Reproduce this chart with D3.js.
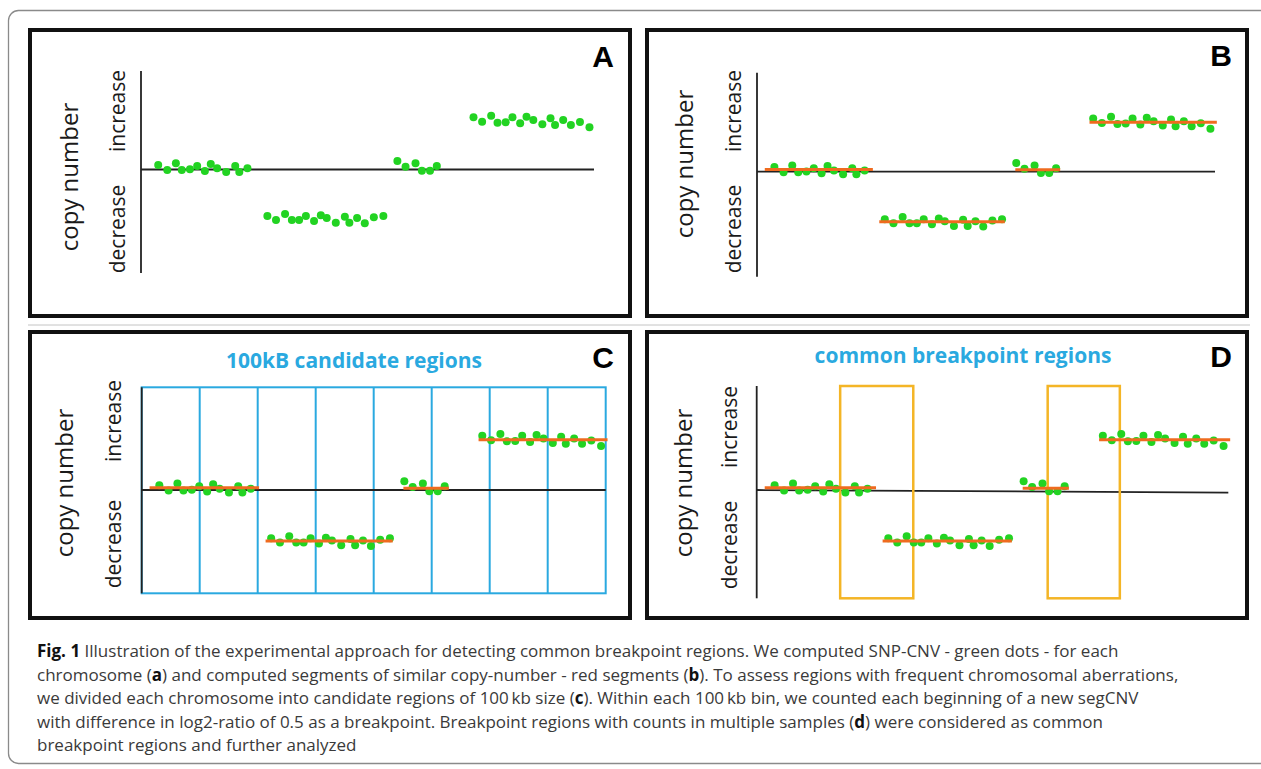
<!DOCTYPE html>
<html>
<head>
<meta charset="utf-8">
<script src="https://cdn.jsdelivr.net/npm/d3@7"></script>
<style>
  body { margin: 0; background: #fff; }
  svg { display: block; }
</style>
</head>
<body>
<div id="fig"></div>
<script>
// segment summary (red/orange segments), x in % of chromosome, y in copy-number units
var segStart = [1.7, 26.7, 56.4, 72.6];
var segEnd   = [25.3, 54.1, 66.2, 100.4];
var segMean  = [0.022, -0.49, 0.018, 0.484];

// SNP-CNV dots per segment
var dotPos = [
  [3.8, 5.8, 7.7, 9.0, 10.8, 12.4, 14.1, 15.4, 16.8, 18.8, 20.8, 21.7, 23.5],
  [27.9, 29.8, 31.8, 33.3, 34.9, 36.4, 38.2, 39.7, 41.0, 43.0, 45.0, 46.0, 47.7, 49.4, 51.4, 53.5],
  [56.6, 58.4, 60.6, 62.0, 63.8, 65.3],
  [73.4, 75.3, 77.3, 78.7, 80.5, 82.0, 83.7, 85.1, 86.6, 88.6, 90.4, 91.4, 93.2, 94.9, 96.9, 99.0]
];
var dotCN = [
  [0.045, -0.005, 0.062, -0.005, 0.002, 0.035, -0.015, 0.055, 0.012, -0.025, 0.035, -0.025, 0.012],
  [-0.465, -0.505, -0.445, -0.505, -0.505, -0.465, -0.515, -0.458, -0.485, -0.532, -0.472, -0.532, -0.485, -0.538, -0.478, -0.465],
  [0.085, 0.028, 0.062, -0.012, -0.012, 0.035],
  [0.522, 0.478, 0.538, 0.468, 0.472, 0.522, 0.462, 0.528, 0.495, 0.452, 0.512, 0.445, 0.495, 0.445, 0.475, 0.422]
];

// 100kB candidate bins (panel C) and common breakpoint regions (panel D)
var binEdges = [0, 12.5, 25, 37.5, 50, 62.5, 75, 87.5, 100];
var breakStart = [17.7, 61.7];
var breakEnd   = [33.2, 77.0];

var panelLetters = ["A", "B", "C", "D"];
var panelTitles = ["", "", "100kB candidate regions", "common breakpoint regions"];

var captionLines = [
  [["Fig. 1", true], [" Illustration of the experimental approach for detecting common breakpoint regions. We computed SNP-CNV - green dots - for each", false]],
  [["chromosome (", false], ["a", true], [") and computed segments of similar copy-number - red segments (", false], ["b", true], ["). To assess regions with frequent chromosomal aberrations,", false]],
  [["we divided each chromosome into candidate regions of 100\u2009kb size (", false], ["c", true], ["). Within each 100\u2009kb bin, we counted each beginning of a new segCNV", false]],
  [["with difference in log2-ratio of 0.5 as a breakpoint. Breakpoint regions with counts in multiple samples (", false], ["d", true], [") were considered as common", false]],
  [["breakpoint regions and further analyzed", false]]
];

function drawFigure(){
    var W = 1261, H = 769;
    var svg = d3.select("#fig").append("svg")
        .attr("width", W).attr("height", H);

    // outer frame of the figure
    svg.append("rect")
        .attr("x", 8.5).attr("y", 10.5)
        .attr("width", 1275).attr("height", 753)
        .attr("rx", 10)
        .attr("fill", "none").attr("stroke", "#8a8a8a").attr("stroke-width", 1.3);
    svg.append("line")
        .attr("x1", 28).attr("x2", 1250).attr("y1", 325).attr("y2", 325)
        .attr("stroke", "#c4c4c4").attr("stroke-width", 1);

    // layout of each panel (box, plotting area, labels)
    var panels = [
        {box: [30, 30, 630, 316], left: 141, right: 594, top: 71, bottom: 273, zero: 169.5, unit: 100,
         letter: [614, 67], cn: [68, 177], inc: [117, 111], dec: [117, 229]},
        {box: [647, 30, 1247, 316], left: 757, right: 1215, top: 72.7, bottom: 276.7, zero: 171.7, unit: 102,
         letter: [1232, 66], cn: [683, 164], inc: [733, 111], dec: [733, 229]},
        {box: [30, 332, 630, 618], left: 141.7, right: 605.7, top: 387.3, bottom: 593.3, zero: 490, unit: 104,
         letter: [614, 368], cn: [63, 483], inc: [113, 421], dec: [113, 544], title: [354, 368]},
        {box: [647, 332, 1247, 618], left: 756.7, right: 1228.3, top: 386, bottom: 598.3, zero: 490, unit: 104,
         letter: [1232, 367], cn: [682, 483], inc: [729, 427], dec: [729, 545], title: [963, 363], tilt: -0.025}
    ];

    var green = "#22d322", orange = "#ef6b1f", blue = "#2aa9e0", gold = "#f4b526";

    panels.forEach(function(p, i){
        var g = svg.append("g").attr("class", "panel panel-" + panelLetters[i]);
        var x = d3.scaleLinear().domain([0, 100]).range([p.left, p.right]);
        var y = d3.scaleLinear().domain([0, 1]).range([p.zero, p.zero - p.unit]);
        var yMin = y.invert(p.bottom), yMax = y.invert(p.top);

        g.append("rect")
            .attr("x", p.box[0]).attr("y", p.box[1])
            .attr("width", p.box[2] - p.box[0]).attr("height", p.box[3] - p.box[1])
            .attr("fill", "#fff").attr("stroke", "#111").attr("stroke-width", 4);

        // panel C: candidate region grid
        if (i === 2) {
            g.append("rect")
                .attr("x", x(0)).attr("y", y(yMax))
                .attr("width", x(100) - x(0)).attr("height", y(yMin) - y(yMax))
                .attr("fill", "none").attr("stroke", blue).attr("stroke-width", 2);
            g.selectAll(".bin")
                .data(binEdges.slice(1, -1))
                .enter().append("line")
                .attr("class", "bin")
                .attr("x1", function(d){ return x(d); }).attr("x2", function(d){ return x(d); })
                .attr("y1", y(yMax)).attr("y2", y(yMin))
                .attr("stroke", blue).attr("stroke-width", 2);
        }

        // axes: vertical copy-number axis and zero line
        g.append("line")
            .attr("x1", x(0)).attr("x2", x(0)).attr("y1", y(yMax)).attr("y2", y(yMin))
            .attr("stroke", "#222").attr("stroke-width", 1.8);
        g.append("line")
            .attr("x1", x(0)).attr("x2", x(100))
            .attr("y1", y(0)).attr("y2", y(p.tilt || 0))
            .attr("stroke", "#222").attr("stroke-width", 1.8);

        // panel D: common breakpoint boxes
        if (i === 3) {
            g.selectAll(".brk")
                .data(breakStart)
                .enter().append("rect")
                .attr("class", "brk")
                .attr("x", function(d){ return x(d); })
                .attr("y", y(yMax))
                .attr("width", function(d, j){ return x(breakEnd[j]) - x(d); })
                .attr("height", y(yMin) - y(yMax))
                .attr("fill", "none").attr("stroke", gold).attr("stroke-width", 2.5);
        }

        // green dots
        dotPos.forEach(function(seg, s){
            g.selectAll(".dot-s" + s)
                .data(seg)
                .enter().append("circle")
                .attr("class", "dot dot-s" + s)
                .attr("cx", function(d){ return x(d); })
                .attr("cy", function(d, j){ return y(dotCN[s][j]); })
                .attr("r", 4)
                .attr("fill", green);
        });

        // segments (panels B-D)
        if (i > 0) {
            g.selectAll(".seg")
                .data(segMean)
                .enter().append("line")
                .attr("class", "seg")
                .attr("x1", function(d, j){ return x(segStart[j]); })
                .attr("x2", function(d, j){ return x(segEnd[j]); })
                .attr("y1", function(d){ return y(d); })
                .attr("y2", function(d){ return y(d); })
                .attr("stroke", orange).attr("stroke-width", 3);
        }

        // labels
        g.append("text")
            .attr("transform", "translate(" + p.cn[0] + "," + p.cn[1] + ") rotate(-90)")
            .attr("text-anchor", "middle").attr("dominant-baseline", "central")
            .style("font-family", "'Open Sans', sans-serif").style("font-size", "24px")
            .style("fill", "#1a1a1a")
            .text("copy number");
        g.append("text")
            .attr("transform", "translate(" + p.inc[0] + "," + p.inc[1] + ") rotate(-90)")
            .attr("text-anchor", "middle").attr("dominant-baseline", "central")
            .style("font-family", "'Open Sans', sans-serif").style("font-size", "21px")
            .style("fill", "#1a1a1a")
            .text("increase");
        g.append("text")
            .attr("transform", "translate(" + p.dec[0] + "," + p.dec[1] + ") rotate(-90)")
            .attr("text-anchor", "middle").attr("dominant-baseline", "central")
            .style("font-family", "'Open Sans', sans-serif").style("font-size", "21px")
            .style("fill", "#1a1a1a")
            .text("decrease");

        g.append("text")
            .attr("x", p.letter[0]).attr("y", p.letter[1])
            .attr("text-anchor", "end")
            .style("font-family", "'Liberation Sans', Arial, sans-serif")
            .style("font-weight", "bold").style("font-size", "30px")
            .style("fill", "#000")
            .text(panelLetters[i]);

        if (panelTitles[i]) {
            g.append("text")
                .attr("x", p.title[0]).attr("y", p.title[1])
                .attr("text-anchor", "middle")
                .style("font-family", "'Open Sans', sans-serif")
                .style("font-weight", "bold").style("font-size", "21px")
                .style("fill", blue)
                .text(panelTitles[i]);
        }
    });

    // caption
    var captionY = [657, 680.5, 704, 727.5, 751];
    var cap = svg.append("g").attr("class", "caption");
    captionLines.forEach(function(line, k){
        var t = cap.append("text")
            .attr("x", 37).attr("y", captionY[k])
            .style("font-family", "'Open Sans', sans-serif")
            .style("font-size", "17px")
            .style("fill", "#3a3a3a");
        line.forEach(function(part){
            t.append("tspan")
                .style("font-weight", part[1] ? "bold" : "normal")
                .style("fill", part[1] ? "#111" : null)
                .text(part[0]);
        });
    });
}

drawFigure()
</script>
</body>
</html>
